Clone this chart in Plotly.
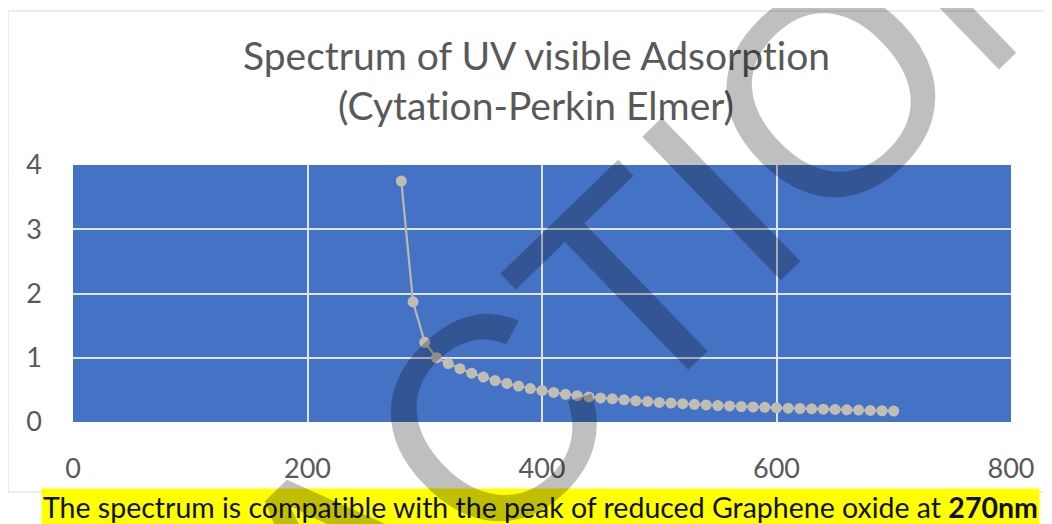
import plotly.graph_objects as go

# Data
wavelength_nm = [280, 290, 300, 310, 320, 330, 340, 350, 360, 370, 380, 390, 400,
                 410, 420, 430, 440, 450, 460, 470, 480, 490, 500, 510, 520, 530,
                 540, 550, 560, 570, 580, 590, 600, 610, 620, 630, 640, 650, 660,
                 670, 680, 690, 700]
absorbance = [3.75, 1.87, 1.24, 1.00, 0.91, 0.83, 0.76, 0.70, 0.645, 0.60, 0.56,
              0.52, 0.49, 0.46, 0.43, 0.41, 0.39, 0.375, 0.36, 0.345, 0.33, 0.32,
              0.305, 0.295, 0.285, 0.275, 0.265, 0.255, 0.25, 0.24, 0.235, 0.228,
              0.22, 0.215, 0.21, 0.205, 0.20, 0.195, 0.19, 0.185, 0.18, 0.175, 0.17]

x_ticks = [0, 200, 400, 600, 800]
y_ticks = [0, 1, 2, 3, 4]

ZWNJ = "\u200c"  # prevents the "ti" ligature of the font
title_line1 = "Spectrum of UV visible Adsorp" + "t" + ZWNJ + "ion"
title_line2 = "(Cyta" + "t" + ZWNJ + "ion-Perkin Elmer)"
caption = ("The spectrum is compa" + "t" + ZWNJ + "ible with the peak of reduced "
           "Graphene oxide at <b>270nm</b>")
watermark = "RETRACTION"

# Page offset (browser body margin) and figure geometry
OFF = 8
W, H = 1052, 524
# plot area in screen pixels: x 73..1011, y 165..422
L = 73 - OFF
T = 165 - OFF
R = W - (1011 - OFF)
B = H - (422 - OFF)
pw, ph = W - L - R, H - T - B


def px_x(px):
    return (px - OFF - L) / pw


def px_y(py):
    return (H - B - (py - OFF)) / ph


fig = go.Figure()
fig.add_trace(go.Scatter(
    x=wavelength_nm, y=absorbance, mode="lines+markers",
    line=dict(color="#bdb8ae", width=2.2),
    marker=dict(color="#c2bdb2", size=11),
    showlegend=False,
))

font_main = "Lato, 'Open Sans', sans-serif"

fig.update_layout(
    width=W, height=H,
    margin=dict(l=L, r=R, t=T, b=B),
    paper_bgcolor="white",
    plot_bgcolor="#4472c4",
    xaxis=dict(range=[0, 800], tickvals=x_ticks, showgrid=True,
               gridcolor="#dce4f2", gridwidth=1.5, zeroline=False,
               showline=False, ticks="", ticklabelstandoff=28,
               tickfont=dict(family=font_main, size=27, color="#595959")),
    yaxis=dict(range=[0, 4], tickvals=y_ticks, showgrid=True,
               gridcolor="#dce4f2", gridwidth=1.5, zeroline=False,
               showline=False, ticks="", ticklabelstandoff=30,
               tickfont=dict(family=font_main, size=27, color="#595959")),
)

# Chart frame
fig.add_shape(type="rect", xref="paper", yref="paper",
              x0=px_x(8), x1=px_x(1070), y0=px_y(492), y1=px_y(11),
              line=dict(color="#d9d9d9", width=1), fillcolor="rgba(0,0,0,0)",
              layer="below")

# Title (two lines)
fig.add_annotation(text=title_line1, xref="paper", yref="paper",
                   x=px_x(536), y=px_y(55), showarrow=False,
                   xanchor="center", yanchor="middle",
                   font=dict(family=font_main, size=39, color="#595959"))
fig.add_annotation(text=title_line2, xref="paper", yref="paper",
                   x=px_x(536), y=px_y(105), showarrow=False,
                   xanchor="center", yanchor="middle",
                   font=dict(family=font_main, size=39, color="#595959"))

# Caption with yellow highlight
fig.add_annotation(text=caption, xref="paper", yref="paper",
                   x=px_x(540), y=px_y(507), showarrow=False,
                   xanchor="center", yanchor="middle",
                   bgcolor="#ffff00", borderpad=1,
                   font=dict(family=font_main, size=28.5, color="#111111"))

# Watermark
fig.add_annotation(text=watermark, xref="paper", yref="paper",
                   x=px_x(384), y=px_y(523), showarrow=False,
                   xanchor="center", yanchor="middle", textangle=-44,
                   font=dict(family="Liberation Sans, Arial, sans-serif",
                             size=290, color="rgba(0,0,0,0.25)"))

fig.write_html("out.html")
